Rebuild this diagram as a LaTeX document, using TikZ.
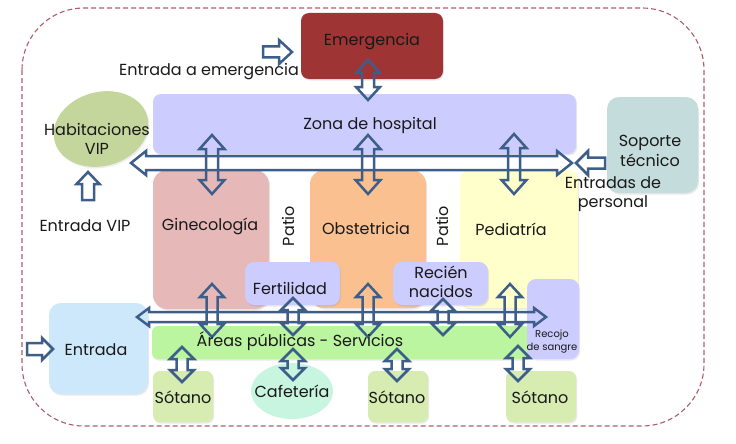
\documentclass[tikz,border=0pt]{standalone}
\usepackage{fontspec}
\setmainfont{Poppins}
\usetikzlibrary{shadows,shapes.geometric}
\definecolor{arrowc}{RGB}{62,94,138}
\definecolor{borderc}{RGB}{176,92,108}
\definecolor{emerg}{RGB}{158,52,52}
\definecolor{lav}{RGB}{204,204,255}
\definecolor{vipg}{RGB}{196,214,155}
\definecolor{sop}{RGB}{196,220,220}
\definecolor{gine}{RGB}{230,185,184}
\definecolor{obst}{RGB}{250,192,144}
\definecolor{pedi}{RGB}{255,255,204}
\definecolor{entr}{RGB}{204,232,250}
\definecolor{areas}{RGB}{188,245,160}
\definecolor{sotg}{RGB}{214,236,176}
\definecolor{cafe}{RGB}{200,245,224}
\definecolor{txt}{RGB}{25,25,25}
\newcommand{\vdarr}[6]{\draw[blk] (#1,#2) -- ({#1+#4},{#2+#6}) -- ({#1+#5},{#2+#6}) -- ({#1+#5},{#3-#6}) -- ({#1+#4},{#3-#6}) -- (#1,#3) -- ({#1-#4},{#3-#6}) -- ({#1-#5},{#3-#6}) -- ({#1-#5},{#2+#6}) -- ({#1-#4},{#2+#6}) -- cycle;}
\newcommand{\hdarr}[6]{\draw[blk] (#2,#1) -- ({#2+#6},{#1-#4}) -- ({#2+#6},{#1-#5}) -- ({#3-#6},{#1-#5}) -- ({#3-#6},{#1-#4}) -- (#3,#1) -- ({#3-#6},{#1+#4}) -- ({#3-#6},{#1+#5}) -- ({#2+#6},{#1+#5}) -- ({#2+#6},{#1+#4}) -- cycle;}
\newcommand{\harr}[6]{\draw[blk] (#2,{#1-#5}) -- ({#3-(#6)},{#1-#5}) -- ({#3-(#6)},{#1-#4}) -- (#3,#1) -- ({#3-(#6)},{#1+#4}) -- ({#3-(#6)},{#1+#5}) -- (#2,{#1+#5}) -- cycle;}
\newcommand{\uarr}[6]{\draw[blk] ({#1-#5},#2) -- ({#1-#5},{#3+#6}) -- ({#1-#4},{#3+#6}) -- (#1,#3) -- ({#1+#4},{#3+#6}) -- ({#1+#5},{#3+#6}) -- ({#1+#5},#2) -- cycle;}
\begin{document}
\begin{tikzpicture}[x=1pt,y=-1pt,
  box/.style={draw=none,rounded corners=9pt,inner sep=0pt,outer sep=0pt,anchor=north west,
     drop shadow={opacity=0.18,shadow xshift=1pt,shadow yshift=-1.5pt}},
  blk/.style={draw=arrowc,line width=2.5pt,fill=none},
  lbl/.style={font=\fontsize{16}{19.5}\selectfont,text=txt,align=center,inner sep=0pt},
  small/.style={font=\fontsize{10}{13}\selectfont,text=txt,align=center,inner sep=0pt}]
\useasboundingbox (0,0) rectangle (736,444);
% outer dashed border
\draw[borderc,dash pattern=on 5pt off 3pt,line width=1.1pt,rounded corners=62pt] (22,8) rectangle (704,426);
% boxes
\node[box,fill=emerg,minimum width=142pt,minimum height=66pt,rounded corners=8pt] (emg) at (301,13) {};
\node[box,fill=lav,minimum width=423pt,minimum height=60pt,rounded corners=8pt] (zona) at (153,94) {};
\node[box,fill=sop,minimum width=91pt,minimum height=96pt,rounded corners=12pt] (sop) at (607,97) {};
\node[draw=none,fill=vipg,ellipse,rotate=15,minimum width=96pt,minimum height=74pt,inner sep=0pt,
  drop shadow={opacity=0.15,shadow xshift=1pt,shadow yshift=-1.5pt}] (vip) at (101,129) {};
\node[box,fill=gine,minimum width=116pt,minimum height=139pt,rounded corners=14pt] (gine) at (153,170) {};
\node[box,fill=obst,minimum width=116pt,minimum height=138pt,rounded corners=14pt] (obst) at (310,170) {};
\node[box,fill=pedi,minimum width=118pt,minimum height=138pt,rounded corners=10pt] (pedi) at (460,170) {};
\node[box,fill=lav,minimum width=95pt,minimum height=43pt,rounded corners=9pt] (fert) at (245,262) {};
\node[box,fill=lav,minimum width=95pt,minimum height=43pt,rounded corners=9pt] (recien) at (393,262) {};
\node[box,fill=entr,minimum width=99pt,minimum height=91pt,rounded corners=12pt] (entrada) at (49,303) {};
\node[box,fill=areas,minimum width=378pt,minimum height=33pt,rounded corners=6pt] (areas) at (152,326) {};
\node[box,fill=lav,minimum width=52pt,minimum height=80pt,rounded corners=9pt] (recojo) at (527,279) {};
\node[box,fill=sotg,minimum width=60pt,minimum height=51pt,rounded corners=7pt] (sot1) at (153,371) {};
\node[draw=none,fill=cafe,ellipse,minimum width=82pt,minimum height=56pt,inner sep=0pt] (cafe) at (292,391) {};
\node[box,fill=sotg,minimum width=60pt,minimum height=51pt,rounded corners=7pt] (sot2) at (368,371) {};
\node[box,fill=sotg,minimum width=70pt,minimum height=51pt,rounded corners=7pt] (sot3) at (506,371) {};
% block arrows
\harr{52}{263}{292}{12}{5.5}{13}
\vdarr{368}{60}{100}{12}{6}{13}
\hdarr{163}{131}{572}{12}{7}{15}
\vdarr{212}{135}{194}{12.5}{6}{14}
\vdarr{368}{135}{194}{12.5}{6}{14}
\vdarr{514}{134}{194}{12.5}{6}{14}
\harr{163}{605}{576}{12}{5.5}{-12}
\uarr{88}{200}{172}{11.5}{6}{12}
\harr{349}{27}{53}{11}{6}{11}
\hdarr{317}{137}{546}{9}{5}{12}
\vdarr{212}{284}{337}{12}{5.5}{13}
\vdarr{293}{298}{335}{12}{5.5}{12}
\vdarr{368}{284}{337}{12}{5.5}{13}
\vdarr{443}{299}{335}{12}{5.5}{12}
\vdarr{510}{284}{337}{12}{5.5}{13}
\vdarr{182}{347}{382}{12}{5.5}{12}
\vdarr{293}{349}{380}{12}{5.5}{12}
\vdarr{397}{349}{381}{12}{5.5}{12}
\vdarr{518}{346}{381}{12}{5.5}{12}
% labels
\node[lbl] (temg) at (372,42) {Emergencia};
\node[lbl] (tentemg) at (209,72) {Entrada a emergencia};
\node[lbl] (tzona) at (370,125) {Zona de hospital};
\node[lbl] (tvip) at (97,139) {Habitaciones\\VIP};
\node[lbl] (tsop) at (650,151) {Soporte\\técnico};
\node[lbl] (tpers) at (613,194) {Entradas de\\personal};
\node[lbl] (tentvip) at (85,226) {Entrada VIP};
\node[lbl] (tgine) at (210,226) {Ginecología};
\node[lbl] (tobst) at (366,228) {Obstetricia};
\node[lbl] (tpedi) at (511,229) {Pediatría};
\node[lbl,rotate=90] (patio1) at (288,226) {Patio};
\node[lbl,rotate=90] (patio2) at (442,226) {Patio};
\node[lbl] (tfert) at (290,288) {Fertilidad};
\node[lbl] (trecien) at (441,282) {Recién\\nacidos};
\node[small] (trecojo) at (552,342) {Recojo\\de sangre};
\node[lbl] (tentrada) at (96,350) {Entrada};
\node[lbl] (tareas) at (300,341) {Áreas públicas - Servicios};
\node[lbl] (tsot1) at (183,397) {Sótano};
\node[lbl] (tcafe) at (292,391) {Cafetería};
\node[lbl] (tsot2) at (397,397) {Sótano};
\node[lbl] (tsot3) at (540,397) {Sótano};
\end{tikzpicture}
\end{document}
